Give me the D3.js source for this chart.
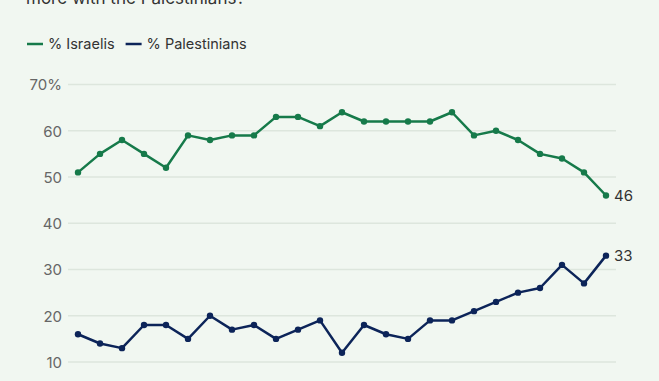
<!DOCTYPE html>
<html><head><meta charset="utf-8">
<script src="https://cdn.jsdelivr.net/npm/d3@7"></script>
<style>
html,body{margin:0;padding:0;background:#f1f7f1;}
svg{display:block;font-family:Inter,"Noto Sans",sans-serif;}
</style></head>
<body><svg id="c" width="659" height="381"></svg>
<script>
const israelis = [51,55,58,55,52,59,58,59,59,63,63,61,64,62,62,62,62,64,59,60,58,55,54,51,46];
const palestinians = [16,14,13,18,18,15,20,17,18,15,17,19,12,18,16,15,19,19,21,23,25,26,31,27,33];
const yTicks = [10,20,30,40,50,60,70];
const seriesNames = ["% Israelis","% Palestinians"];
const colors = ["#167a4a","#0c2459"];

const svg = d3.select("#c");
svg.append("rect").attr("width",659).attr("height",381).attr("fill","#f1f7f1");

const x = d3.scaleLinear().domain([0, israelis.length-1]).range([78,606]);
const y = d3.scaleLinear().domain([10,70]).range([362,84.5]);

// title (cut off at top, as in the reference)
svg.append("text").attr("x",26).attr("y",4).attr("font-size",17).attr("fill","#333")
  .text("more with the Palestinians?");

// legend
let lx = 27;
seriesNames.forEach((n,i)=>{
  const g = svg.append("g");
  g.append("line").attr("x1",lx).attr("x2",lx+16).attr("y1",44).attr("y2",44)
   .attr("stroke",colors[i]).attr("stroke-width",2.5);
  const t = g.append("text").attr("x",lx+21).attr("y",49).attr("font-size",14.5).attr("fill","#333").text(n);
  lx = lx + 21 + t.node().getComputedTextLength() + 11;
});

// grid
const yAxis = d3.axisLeft(y).tickValues(yTicks).tickSize(0).tickFormat(d=> d===70 ? "70%" : d);
svg.append("g").selectAll("line").data(yTicks).join("line")
  .attr("x1",68).attr("x2",616).attr("y1",d=>y(d)).attr("y2",d=>y(d))
  .attr("stroke","#dde6dd").attr("stroke-width",1.3);
const ag = svg.append("g").attr("transform","translate(62,0)").call(yAxis);
ag.select(".domain").remove();
ag.selectAll("text").attr("font-size",15).attr("fill","#666").attr("font-family","Inter,'Noto Sans',sans-serif").attr("dx",0).attr("dy","0.35em").attr("x",0);

const line = d3.line().x((d,i)=>x(i)).y(d=>y(d));
[israelis, palestinians].forEach((data,k)=>{
  svg.append("path").datum(data).attr("d",line).attr("fill","none")
    .attr("stroke",colors[k]).attr("stroke-width",2.5).attr("stroke-linejoin","round");
  svg.append("g").selectAll("circle").data(data).join("circle")
    .attr("cx",(d,i)=>x(i)).attr("cy",d=>y(d)).attr("r",3.2).attr("fill",colors[k]);
  const last = data[data.length-1];
  svg.append("text").attr("x",x(data.length-1)+8).attr("y",y(last)).attr("dy","0.35em")
    .attr("font-size",15).attr("fill","#333").text(last);
});
</script></body></html>
